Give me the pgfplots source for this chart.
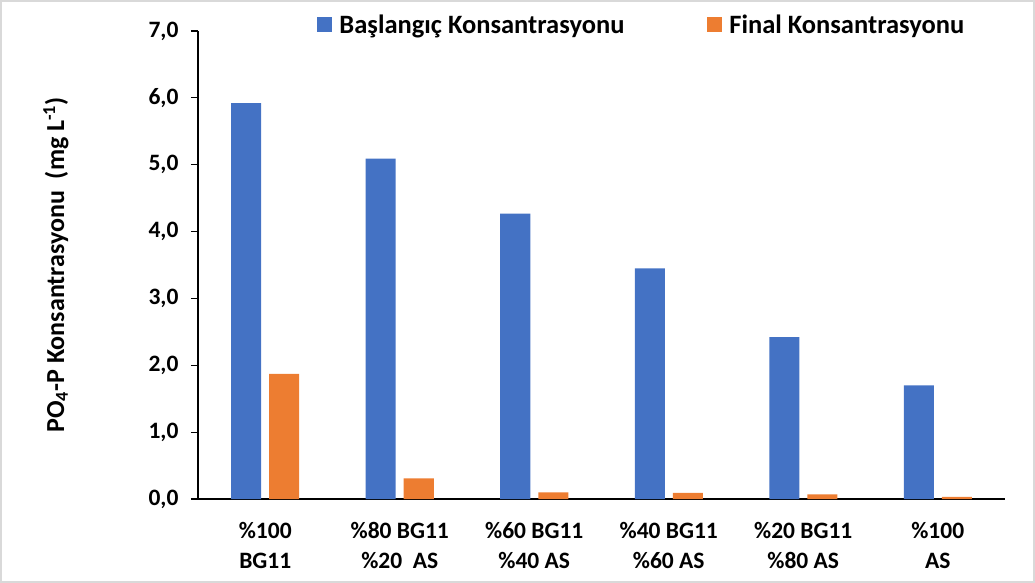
\documentclass[border=0pt]{standalone}
\usepackage{fontspec}
\setmainfont{Carlito}
\usepackage{pgfplots}
\pgfplotsset{compat=1.18}
\definecolor{cblue}{HTML}{4472C4}
\definecolor{corange}{HTML}{ED7D31}
\definecolor{framegray}{HTML}{D9D9D9}

\begin{document}
\begin{tikzpicture}
\draw[framegray, line width=2pt] (-197pt,-83pt) rectangle (836pt,498pt);
\begin{axis}[
    at={(0,0)}, anchor=south west,
    scale only axis, width=807pt, height=468pt,
    ybar=8pt, bar width=30pt,
    xmin=-0.5, xmax=5.5, ymin=0, ymax=7,
    axis x line*=bottom, axis y line*=left,
    axis line style={black, line width=1.5pt},
    font=\fontsize{23.5}{30}\selectfont\bfseries,
    xtick={0,...,5},
    xticklabels={{\%100\\BG11}, {\%80 BG11\\\%20~ AS}, {\%60 BG11\\\%40 AS},
                 {\%40 BG11\\\%60 AS}, {\%20 BG11\\\%80 AS}, {\%100\\AS}},
    xticklabel style={align=center, yshift=-13pt},
    major x tick style={draw=none},
    ytick={0,...,7},
    tick align=outside, major tick length=7pt,
    y tick style={black, line width=1.2pt},
    yticklabel style={xshift=-9pt, /pgf/number format/.cd, fixed, fixed zerofill, precision=1,
                      use comma, assume math mode=true},
    ylabel={PO\textsubscript{4}-P Konsantrasyonu~ (mg L\textsuperscript{-1})},
    every axis y label/.style={at={(axis description cs:-0.176,0.5)}, rotate=90, anchor=center,
                               font=\fontsize{26}{30}\selectfont\bfseries},
    legend style={at={(axis description cs:0.550,1.013)}, anchor=center, draw=none,
                  legend columns=2, font=\fontsize{26.5}{30}\selectfont\bfseries,
                  /tikz/every even column/.append style={column sep=81pt}},
    legend image code/.code={\fill[#1] (0pt,-7.5pt) rectangle (15pt,7.5pt); \path (20pt,0pt);},
]
\addplot[fill=cblue, draw=none] coordinates {
    (0,5.92) (1,5.09) (2,4.27) (3,3.45) (4,2.42) (5,1.70) };
\addplot[fill=corange, draw=none] coordinates {
    (0,1.87) (1,0.31) (2,0.10) (3,0.09) (4,0.07) (5,0.03) };
\legend{Başlangıç Konsantrasyonu, Final Konsantrasyonu}
\end{axis}
\end{tikzpicture}
\end{document}
